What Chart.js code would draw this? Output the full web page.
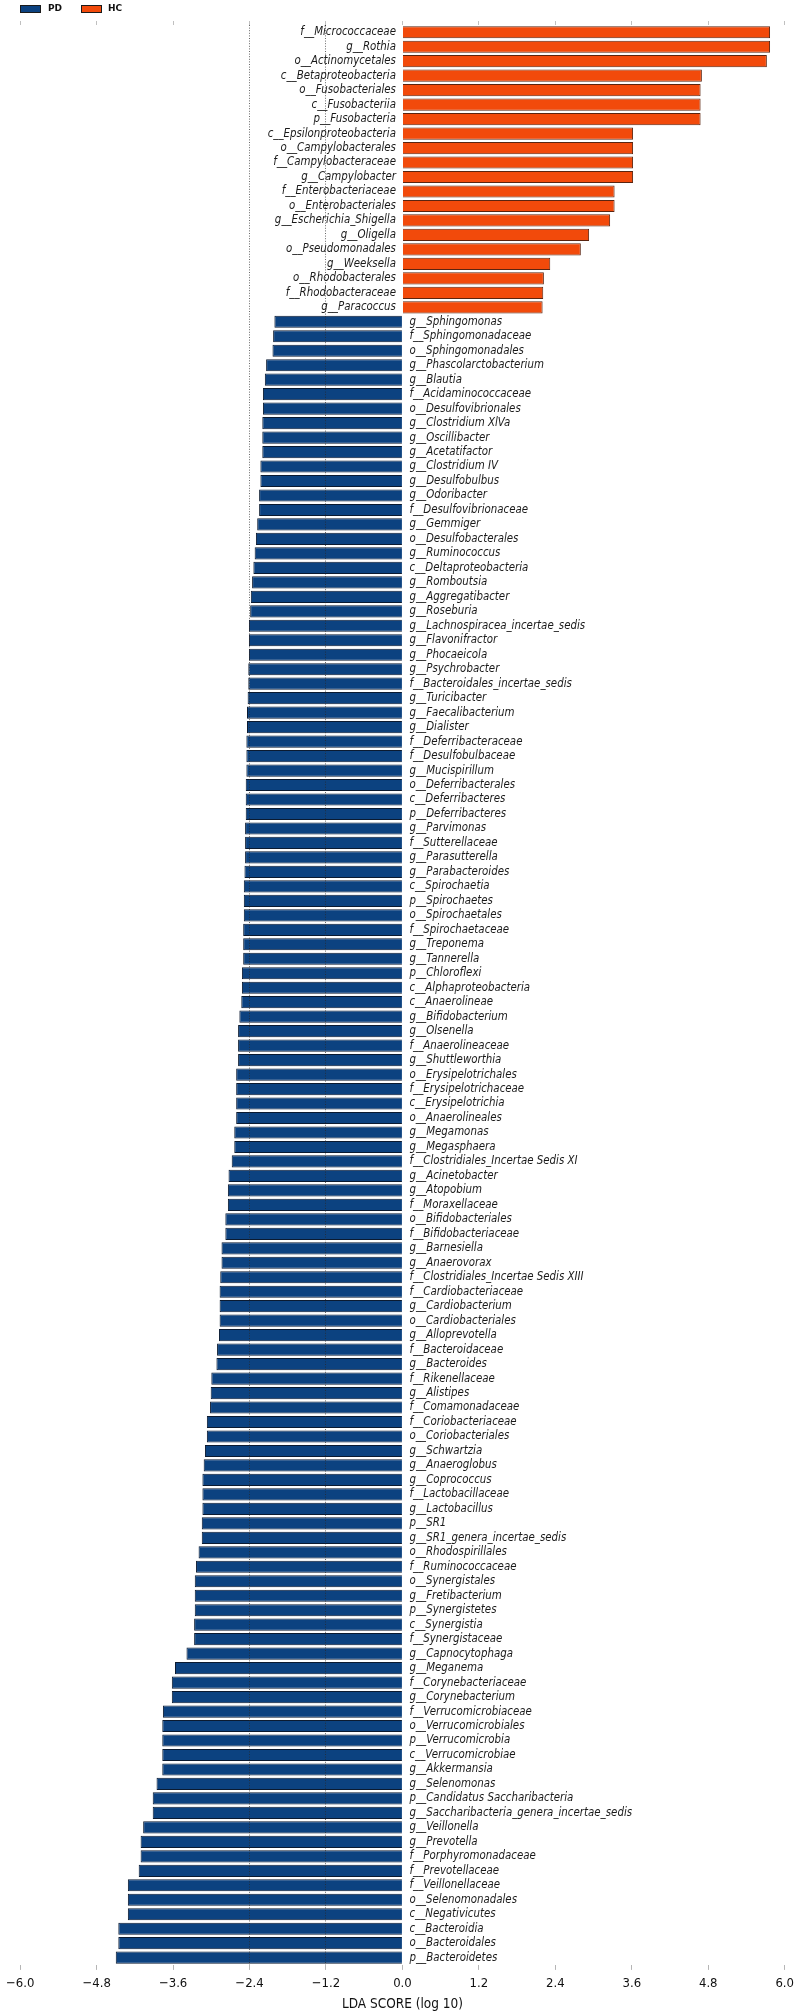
<!DOCTYPE html>
<html>
<head>
<meta charset="utf-8">
<script src="https://cdn.jsdelivr.net/npm/chart.js@4.4.0/dist/chart.umd.min.js"></script>
<style>
  html, body { margin: 0; padding: 0; background: #fff; }
  #wrap { position: relative; width: 800px; height: 2015px; }
  #legend { position: absolute; left: 0; top: 0; font: bold 9px "DejaVu Sans", sans-serif; color: #111; }
  #legend .box { position: absolute; top: 5px; width: 19px; height: 6px; border: 1px solid #1a1a1a; }
  #legend .lab { position: absolute; top: 3px; line-height: 11px; }
</style>
</head>
<body>
<div id="wrap">
  <canvas id="chart"></canvas>
  <div id="legend">
    <span class="box" style="left:20px;background:#0c4280"></span><span class="lab" style="left:48px">PD</span>
    <span class="box" style="left:81px;background:#f24a0b"></span><span class="lab" style="left:108px">HC</span>
  </div>
</div>
<script>
// HC enriched (positive LDA), top to bottom
const hcNames = [
  'f__Micrococcaceae', 'g__Rothia', 'o__Actinomycetales', 'c__Betaproteobacteria',
  'o__Fusobacteriales', 'c__Fusobacteriia', 'p__Fusobacteria', 'c__Epsilonproteobacteria',
  'o__Campylobacterales', 'f__Campylobacteraceae', 'g__Campylobacter', 'f__Enterobacteriaceae',
  'o__Enterobacteriales', 'g__Escherichia_Shigella', 'g__Oligella', 'o__Pseudomonadales',
  'g__Weeksella', 'o__Rhodobacterales', 'f__Rhodobacteraceae', 'g__Paracoccus'
];
const hcScores = [
  5.77, 5.77, 5.72, 4.70, 4.68, 4.68, 4.68, 3.62, 3.62, 3.62, 3.62, 3.33,
  3.33, 3.26, 2.93, 2.80, 2.32, 2.22, 2.21, 2.20
];

// PD enriched (negative LDA), top to bottom
const pdNames = [
  'g__Sphingomonas', 'f__Sphingomonadaceae', 'o__Sphingomonadales', 'g__Phascolarctobacterium',
  'g__Blautia', 'f__Acidaminococcaceae', 'o__Desulfovibrionales', 'g__Clostridium XlVa',
  'g__Oscillibacter', 'g__Acetatifactor', 'g__Clostridium IV', 'g__Desulfobulbus',
  'g__Odoribacter', 'f__Desulfovibrionaceae', 'g__Gemmiger', 'o__Desulfobacterales',
  'g__Ruminococcus', 'c__Deltaproteobacteria', 'g__Romboutsia', 'g__Aggregatibacter',
  'g__Roseburia', 'g__Lachnospiracea_incertae_sedis', 'g__Flavonifractor', 'g__Phocaeicola',
  'g__Psychrobacter', 'f__Bacteroidales_incertae_sedis', 'g__Turicibacter', 'g__Faecalibacterium',
  'g__Dialister', 'f__Deferribacteraceae', 'f__Desulfobulbaceae', 'g__Mucispirillum',
  'o__Deferribacterales', 'c__Deferribacteres', 'p__Deferribacteres', 'g__Parvimonas',
  'f__Sutterellaceae', 'g__Parasutterella', 'g__Parabacteroides', 'c__Spirochaetia',
  'p__Spirochaetes', 'o__Spirochaetales', 'f__Spirochaetaceae', 'g__Treponema',
  'g__Tannerella', 'p__Chloroflexi', 'c__Alphaproteobacteria', 'c__Anaerolineae',
  'g__Bifidobacterium', 'g__Olsenella', 'f__Anaerolineaceae', 'g__Shuttleworthia',
  'o__Erysipelotrichales', 'f__Erysipelotrichaceae', 'c__Erysipelotrichia', 'o__Anaerolineales',
  'g__Megamonas', 'g__Megasphaera', 'f__Clostridiales_Incertae Sedis XI', 'g__Acinetobacter',
  'g__Atopobium', 'f__Moraxellaceae', 'o__Bifidobacteriales', 'f__Bifidobacteriaceae',
  'g__Barnesiella', 'g__Anaerovorax', 'f__Clostridiales_Incertae Sedis XIII', 'f__Cardiobacteriaceae',
  'g__Cardiobacterium', 'o__Cardiobacteriales', 'g__Alloprevotella', 'f__Bacteroidaceae',
  'g__Bacteroides', 'f__Rikenellaceae', 'g__Alistipes', 'f__Comamonadaceae',
  'f__Coriobacteriaceae', 'o__Coriobacteriales', 'g__Schwartzia', 'g__Anaeroglobus',
  'g__Coprococcus', 'f__Lactobacillaceae', 'g__Lactobacillus', 'p__SR1',
  'g__SR1_genera_incertae_sedis', 'o__Rhodospirillales', 'f__Ruminococcaceae', 'o__Synergistales',
  'g__Fretibacterium', 'p__Synergistetes', 'c__Synergistia', 'f__Synergistaceae',
  'g__Capnocytophaga', 'g__Meganema', 'f__Corynebacteriaceae', 'g__Corynebacterium',
  'f__Verrucomicrobiaceae', 'o__Verrucomicrobiales', 'p__Verrucomicrobia', 'c__Verrucomicrobiae',
  'g__Akkermansia', 'g__Selenomonas', 'p__Candidatus Saccharibacteria', 'g__Saccharibacteria_genera_incertae_sedis',
  'g__Veillonella', 'g__Prevotella', 'f__Porphyromonadaceae', 'f__Prevotellaceae',
  'f__Veillonellaceae', 'o__Selenomonadales', 'c__Negativicutes', 'c__Bacteroidia',
  'o__Bacteroidales', 'p__Bacteroidetes'
];
const pdScores = [
  -2.01, -2.03, -2.04, -2.14, -2.16, -2.19, -2.19, -2.20, -2.20, -2.20, -2.23, -2.23,
  -2.25, -2.25, -2.28, -2.30, -2.32, -2.34, -2.36, -2.38, -2.39, -2.41, -2.41, -2.41,
  -2.42, -2.42, -2.43, -2.44, -2.44, -2.45, -2.45, -2.45, -2.46, -2.46, -2.46, -2.47,
  -2.47, -2.47, -2.48, -2.49, -2.49, -2.49, -2.50, -2.50, -2.50, -2.52, -2.52, -2.53,
  -2.56, -2.58, -2.58, -2.58, -2.61, -2.61, -2.61, -2.61, -2.64, -2.64, -2.68, -2.73,
  -2.74, -2.74, -2.78, -2.78, -2.84, -2.84, -2.86, -2.87, -2.87, -2.87, -2.88, -2.91,
  -2.92, -3.00, -3.01, -3.02, -3.07, -3.07, -3.10, -3.12, -3.14, -3.14, -3.14, -3.15,
  -3.15, -3.20, -3.24, -3.26, -3.26, -3.26, -3.27, -3.27, -3.39, -3.57, -3.62, -3.62,
  -3.76, -3.77, -3.77, -3.77, -3.77, -3.86, -3.92, -3.92, -4.07, -4.11, -4.11, -4.14,
  -4.31, -4.31, -4.31, -4.46, -4.46, -4.50
];

const xTicks = [-6.0, -4.8, -3.6, -2.4, -1.2, 0.0, 1.2, 2.4, 3.6, 4.8, 6.0];
const dottedAt = [-2.4, -1.2];

const labels = hcNames.concat(pdNames);
const hcData = labels.map((n, i) => i < hcNames.length ? hcScores[i] : null);
const pdData = labels.map((n, i) => i < hcNames.length ? null : pdScores[i - hcNames.length]);

const labelFont = 'italic 11.4px "DejaVu Sans Condensed", "DejaVu Sans", sans-serif';

const nameLabels = {
  id: 'nameLabels',
  afterDatasetsDraw(chart) {
    const ctx = chart.ctx;
    const x = chart.scales.x;
    const y = chart.scales.y;
    const x0 = x.getPixelForValue(0);
    ctx.save();
    ctx.font = labelFont;
    ctx.fillStyle = '#1a1a1a';
    ctx.textBaseline = 'middle';
    labels.forEach((name, i) => {
      const yy = y.getPixelForValue(i);
      if (i < hcNames.length) {
        ctx.textAlign = 'right';
        ctx.fillText(name, x0 - 6.5, yy);
      } else {
        ctx.textAlign = 'left';
        ctx.fillText(name, x0 + 7, yy);
      }
    });
    ctx.restore();
  }
};

function setTicks(scale) {
  scale.ticks = xTicks.map(v => ({ value: v }));
}

function fmt(v) {
  const s = Number(v).toFixed(1);
  return s === '-0.0' ? '0.0' : s.replace('-', '\u2212');
}

new Chart(document.getElementById('chart'), {
  type: 'bar',
  data: {
    labels,
    datasets: [
      {
        label: 'PD',
        data: pdData,
        backgroundColor: '#0c4280',
        borderColor: '#0b1a30',
        borderWidth: 1,
        grouped: false,
        barPercentage: 0.84,
        categoryPercentage: 1.0
      },
      {
        label: 'HC',
        data: hcData,
        backgroundColor: '#f24a0b',
        borderColor: '#5a2410',
        borderWidth: 1,
        grouped: false,
        barPercentage: 0.84,
        categoryPercentage: 1.0
      }
    ]
  },
  options: {
    indexAxis: 'y',
    responsive: true,
    maintainAspectRatio: false,
    animation: false,
    layout: { padding: { top: 21, bottom: 4, left: 17, right: 14 } },
    plugins: {
      legend: { display: false },
      tooltip: { enabled: false }
    },
    scales: {
      y: { display: false, offset: true },
      x: {
        min: -6, max: 6,
        position: 'bottom',
        afterBuildTicks: setTicks,
        grid: {
          z: 1,
          drawOnChartArea: true,
          color: c => (c.tick && dottedAt.some(v => Math.abs(c.tick.value - v) < 1e-6)) ? 'rgba(40,40,40,0.7)' : 'rgba(0,0,0,0)',
          tickColor: '#b5b5b5',
          tickLength: 5,
          lineWidth: 1
        },
        border: { display: false, dash: [1, 1.6] },
        ticks: {
          callback: v => fmt(v),
          color: '#111',
          padding: 6,
          maxRotation: 0,
          autoSkip: false,
          font: { family: '"DejaVu Sans Condensed", "DejaVu Sans", sans-serif', size: 13 }
        },
        title: {
          display: true,
          text: 'LDA SCORE (log 10)',
          color: '#111',
          padding: { top: 0, bottom: 0 },
          font: { family: '"DejaVu Sans Condensed", "DejaVu Sans", sans-serif', size: 13.5, lineHeight: 1 }
        }
      },
      x2: {
        type: 'linear',
        axis: 'x',
        min: -6, max: 6,
        position: 'top',
        afterBuildTicks: setTicks,
        grid: { drawOnChartArea: false, tickColor: '#c0c0c0', tickLength: 4 },
        border: { display: false },
        ticks: { display: false }
      }
    }
  },
  plugins: [nameLabels]
});
</script>
</body>
</html>
